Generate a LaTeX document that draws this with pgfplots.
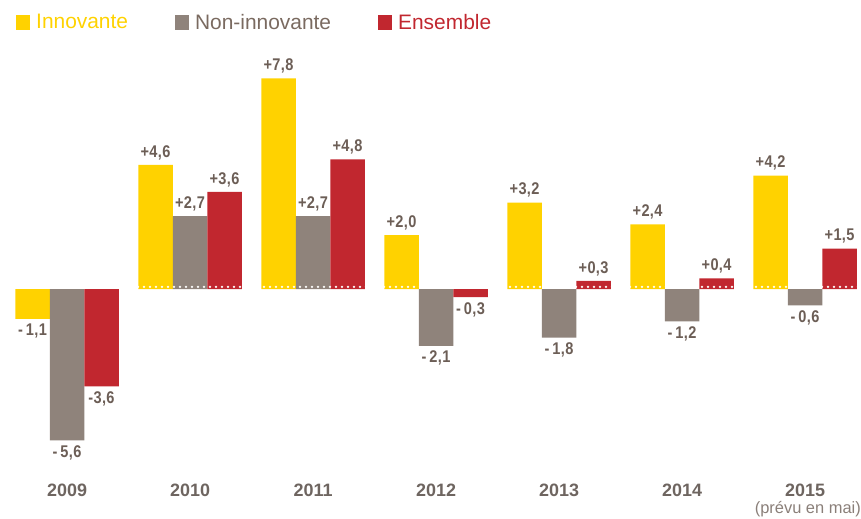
\documentclass[border=0pt]{standalone}
\usepackage{pgfplots}
\pgfplotsset{compat=1.18}
\usepackage{pgfplotstable}
\usepackage{fontspec}
\setmainfont{Liberation Sans}
\newfontfamily\condfont[FakeStretch=0.86,LetterSpace=2]{Liberation Sans}

\definecolor{inno}{HTML}{FFD200}
\definecolor{nonin}{HTML}{8F837B}
\definecolor{nonlg}{HTML}{7A6A60}
\definecolor{ens}{HTML}{C1272F}
\definecolor{labtxt}{HTML}{6C5E56}
\definecolor{yeartxt}{HTML}{6E6560}
\definecolor{notetxt}{HTML}{8A7F79}

% x, valeur et etiquette pour chaque serie
\pgfplotstableread{
x inn innl non nonl ens ensl
0 -1.1 -\kern3bp\relax1,1 -5.6 -\kern3bp\relax5,6 -3.6 -3,6
1 4.6 +4,6 2.7 +2,7 3.6 +3,6
2 7.8 +7,8 2.7 +2,7 4.8 +4,8
3 2.0 +2,0 -2.1 -\kern3bp\relax2,1 -0.3 -\kern3bp\relax0,3
4 3.2 +3,2 -1.8 -\kern3bp\relax1,8 0.3 +0,3
5 2.4 +2,4 -1.2 -\kern3bp\relax1,2 0.4 +0,4
6 4.2 +4,2 -0.6 -\kern3bp\relax0,6 1.5 +1,5
}\data

\begin{document}
\begin{tikzpicture}
\begin{axis}[
    scale only axis,
    width=861bp, height=518bp,
    xmin=-0.545, xmax=6.455,
    ymin=-8.48, ymax=10.70,
    ybar=0pt, bar width=34.5bp,
    axis line style={draw=none},
    major tick length=0pt,
    ytick=\empty,
    xtick={0,...,6},
    xticklabels={2009,2010,2011,2012,2013,2014,2015},
    xticklabel style={anchor=center, yshift=28bp,
        font=\fontsize{18}{18}\selectfont\bfseries, text=yeartxt},
    bars/.style={draw=none, nodes near coords, point meta=explicit symbolic,
        visualization depends on={rawy \as \rawy},
        every node near coord/.append style={
            font=\fontsize{17}{17}\selectfont\condfont\bfseries,
            text=labtxt, inner sep=5bp},
        every node near coord/.append code={%
            \ifdim\rawy pt<0pt \pgfkeysalso{anchor=north}\else\pgfkeysalso{anchor=south}\fi}},
    legend style={at={(0.0151,0.957)}, anchor=west, draw=none, fill=none,
        legend columns=3, font=\fontsize{21}{21}\selectfont,
        /tikz/every even column/.append style={column sep=45bp}},
    legend image code/.code={\path[#1,draw=none] (0bp,-7.5bp) rectangle (14bp,7.5bp);
        \path (18bp,0bp);},
]
\addplot[bars, fill=inno] table[x=x, y=inn, meta=innl] {\data};
\addplot[bars, fill=nonin] table[x=x, y=non, meta=nonl] {\data};
\addplot[bars, fill=ens] table[x=x, y=ens, meta=ensl] {\data};
% ligne de base pointillee blanche
\addplot[sharp plot, forget plot, white, line width=2.6bp, line cap=round,
    dash pattern=on 0bp off 6bp] coordinates {(-0.545,0.08) (6.455,0.08)};
\legend{\textcolor{inno}{Innovante}, \textcolor{nonlg}{Non-innovante}, \textcolor{ens}{Ensemble}}
\node[anchor=east, font=\fontsize{16.5}{16.5}\selectfont, text=notetxt, inner sep=0pt]
    at (rel axis cs:1,0.0174) {(prévu en mai)};
\end{axis}
\end{tikzpicture}
\end{document}
